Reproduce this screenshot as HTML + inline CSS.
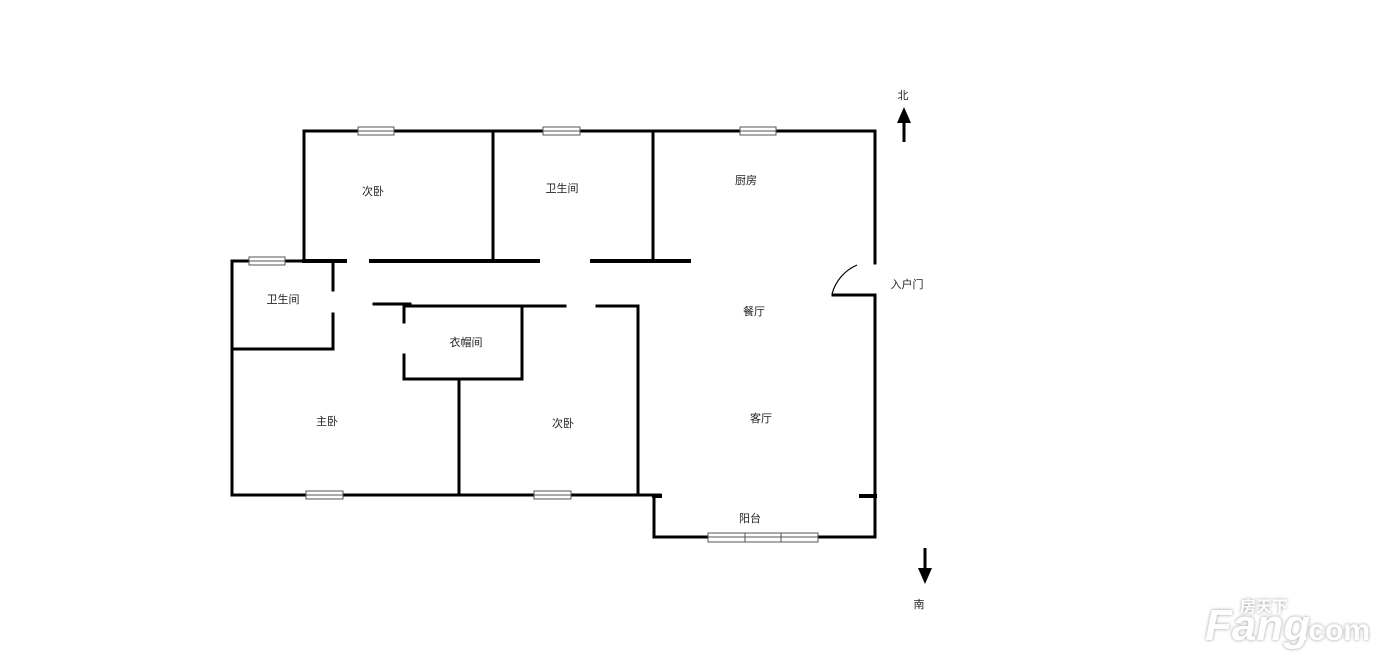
<!DOCTYPE html>
<html><head><meta charset="utf-8"><style>
html,body{margin:0;padding:0;background:#fff;}
svg{display:block}
text{font-family:"Liberation Sans","Noto Sans CJK SC",sans-serif;font-size:11px;fill:#222;}
</style></head><body>
<svg width="1400" height="666" viewBox="0 0 1400 666" xmlns="http://www.w3.org/2000/svg">
<g stroke="#000" stroke-width="3" fill="none" stroke-linecap="square">
<!-- top -->
<line x1="304" y1="131" x2="875" y2="131"/>
<line x1="304" y1="131" x2="304" y2="261"/>
<line x1="493" y1="131" x2="493" y2="261"/>
<line x1="653" y1="131" x2="653" y2="261"/>
<line x1="875" y1="131" x2="875" y2="263"/>
<!-- y=261 walls -->
<line x1="232" y1="261" x2="345" y2="261"/>
<line x1="304" y1="261" x2="345" y2="261" stroke-width="4"/>
<line x1="371" y1="261" x2="538" y2="261" stroke-width="4"/>
<line x1="592" y1="261" x2="689" y2="261" stroke-width="4"/>
<!-- entry -->
<line x1="833" y1="295" x2="875" y2="295"/>
<line x1="875" y1="295" x2="875" y2="497"/>
<!-- left bath -->
<line x1="232" y1="261" x2="232" y2="495"/>
<line x1="333" y1="261" x2="333" y2="290"/>
<line x1="333" y1="314" x2="333" y2="349"/>
<line x1="232" y1="349" x2="333" y2="349"/>
<!-- closet -->
<line x1="374" y1="304" x2="410" y2="304"/>
<line x1="404" y1="306" x2="565" y2="306"/>
<line x1="597" y1="306" x2="638" y2="306"/>
<line x1="404" y1="306" x2="404" y2="322"/>
<line x1="404" y1="355" x2="404" y2="379"/>
<line x1="404" y1="379" x2="522" y2="379"/>
<line x1="522" y1="306" x2="522" y2="379"/>
<line x1="459" y1="379" x2="459" y2="495"/>
<line x1="638" y1="306" x2="638" y2="492"/>
<!-- bottom -->
<line x1="232" y1="495" x2="660" y2="495"/>
<line x1="654" y1="495" x2="654" y2="537"/>
<line x1="654" y1="537" x2="875" y2="537"/>
<line x1="875" y1="497" x2="875" y2="537"/>
<line x1="861" y1="496" x2="875" y2="496" stroke-width="4"/>
<line x1="654" y1="496" x2="660" y2="496" stroke-width="4"/>
</g>
<!-- door arc -->
<path d="M832 294 A44 44 0 0 1 857 265" stroke="#000" stroke-width="1.2" fill="none"/>
<!-- windows -->
<g fill="#fff" stroke="#555" stroke-width="1">
<rect x="358" y="127" width="36" height="8"/><line x1="358" y1="131" x2="394" y2="131"/>
<rect x="543" y="127" width="37" height="8"/><line x1="543" y1="131" x2="580" y2="131"/>
<rect x="740" y="127" width="36" height="8"/><line x1="740" y1="131" x2="776" y2="131"/>
<rect x="249" y="257" width="36" height="8"/><line x1="249" y1="261" x2="285" y2="261"/>
<rect x="306" y="491" width="37" height="8"/><line x1="306" y1="495" x2="343" y2="495"/>
<rect x="534" y="491" width="37" height="8"/><line x1="534" y1="495" x2="571" y2="495"/>
<rect x="708" y="533" width="37" height="9"/><line x1="708" y1="537" x2="745" y2="537"/>
<rect x="745" y="533" width="36" height="9"/><line x1="745" y1="537" x2="781" y2="537"/>
<rect x="781" y="533" width="37" height="9"/><line x1="781" y1="537" x2="818" y2="537"/>
</g>
<!-- arrows -->
<line x1="904" y1="120" x2="904" y2="142" stroke="#000" stroke-width="3"/>
<polygon points="904,107 897,123 911,123" fill="#000"/>
<line x1="925" y1="548" x2="925" y2="570" stroke="#000" stroke-width="3"/>
<polygon points="925,584 918,568 932,568" fill="#000"/>
<g text-anchor="middle">
<text x="903" y="99">北</text>
<text x="919" y="608">南</text>
<text x="373" y="195">次卧</text>
<text x="562" y="192">卫生间</text>
<text x="746" y="184">厨房</text>
<text x="283" y="303">卫生间</text>
<text x="466" y="346">衣帽间</text>
<text x="754" y="315">餐厅</text>
<text x="327" y="425">主卧</text>
<text x="563" y="427">次卧</text>
<text x="761" y="422">客厅</text>
<text x="750" y="522">阳台</text>
<text x="907" y="288">入户门</text>
</g>
<g style="filter:drop-shadow(0 0 1.5px #999)">
<text x="1205" y="640" style="font-size:44px;font-weight:bold;fill:#fff;font-style:italic">Fang</text>
<text x="1300" y="640" style="font-size:30px;font-weight:bold;fill:#fff">.com</text>
<text x="1240" y="612" style="font-size:16px;font-weight:bold;fill:#fff">房天下</text>
</g>
</svg>
</body></html>
